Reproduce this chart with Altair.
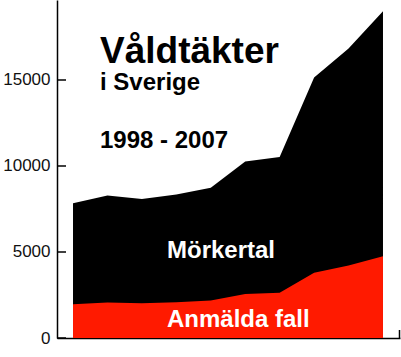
import altair as alt
import pandas as pd

years = [1998, 1999, 2000, 2001, 2002, 2003, 2004, 2005, 2006, 2007]
anmalda = [1960, 2070, 2020, 2085, 2184, 2565, 2631, 3787, 4208, 4749]
totalt = [7840, 8280, 8080, 8340, 8736, 10260, 10524, 15148, 16832, 18996]
y_ticks = [0, 5000, 10000, 15000]

df = pd.DataFrame({"year": years, "anm": anmalda, "tot": totalt})
ticks_df = pd.DataFrame({"v": y_ticks})

W, H = 343, 338
xscale = alt.Scale(domain=[1997.535, 2007.494], nice=False, zero=False)
yscale = alt.Scale(domain=[0, 19651], nice=False)

base = alt.Chart(df)

black = base.mark_area(color="#000000", interpolate="linear").encode(
    x=alt.X("year:Q", scale=xscale,
            axis=alt.Axis(labels=False, ticks=False, grid=False, title=None,
                          domainColor="#000000", domainWidth=1.5)),
    y=alt.Y("tot:Q", scale=yscale,
            axis=alt.Axis(values=y_ticks, format="d", ticks=False, grid=False, title=None,
                          labelFont="Liberation Sans", labelFontSize=17,
                          labelColor="#111111", labelPadding=7,
                          domainColor="#000000", domainWidth=1.5)),
)

red = base.mark_area(color="#ff1a00", interpolate="linear").encode(
    x=alt.X("year:Q", scale=xscale),
    y=alt.Y("anm:Q", scale=yscale),
)

tick_rules = alt.Chart(ticks_df).mark_rule(color="#000000", strokeWidth=1.5).encode(
    y=alt.Y("v:Q", scale=yscale),
    x=alt.value(0),
    x2=alt.value(9),
)

end_tick = alt.Chart(ticks_df.head(1)).mark_rule(color="#000000", strokeWidth=1.5).encode(
    x=alt.value(W - 0.5), y=alt.value(H - 8), y2=alt.value(H)
)

top_label = alt.Chart(pd.DataFrame({"v": [20000], "t": ["20000"]})).mark_text(
    font="Liberation Sans", fontSize=17, align="right", baseline="middle",
    color="#111111", clip=False
).encode(y=alt.Y("v:Q", scale=yscale), x=alt.value(-7), text="t:N")

def label(txt, x, y, size, color="#000000"):
    return alt.Chart(pd.DataFrame({"t": [txt]})).mark_text(
        font="Liberation Sans", fontWeight="bold", fontSize=size,
        align="left", baseline="alphabetic", color=color
    ).encode(x=alt.value(x), y=alt.value(y), text="t:N")

texts = [
    label("Våldtäkter", 43, 63, 37),
    label("i Sverige", 43, 90, 24),
    label("1998 - 2007", 43, 148, 24),
    label("Mörkertal", 110, 258, 24, "#ffffff"),
    label("Anmälda fall", 110, 327, 24, "#ffffff"),
]

chart = alt.layer(black, red, tick_rules, end_tick, top_label, *texts).properties(
    width=W, height=H,
    padding={"left": 57, "top": 0, "right": 1, "bottom": 19},
    autosize=alt.AutoSizeParams(type="none"),
    background="#ffffff",
).configure_view(stroke=None)

chart.save("out.html", embed_options={"renderer": "svg", "actions": False})
